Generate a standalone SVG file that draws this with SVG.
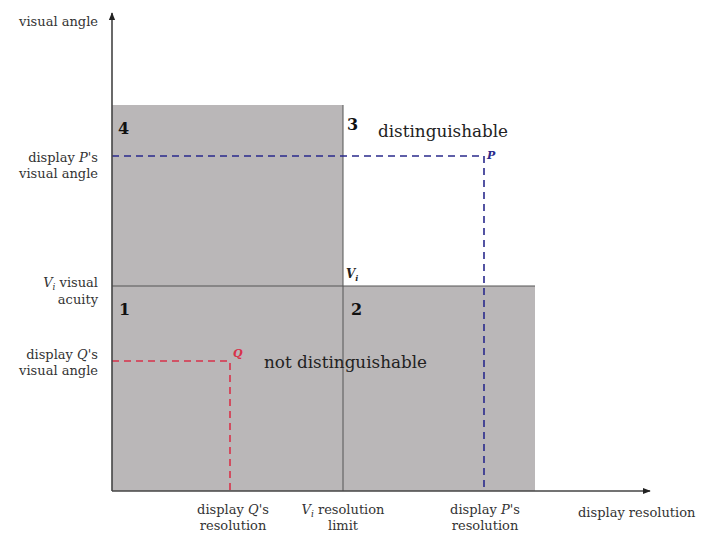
<svg xmlns="http://www.w3.org/2000/svg" width="702" height="535" viewBox="0 0 702 535">
<style>
text{font-family:"DejaVu Serif","Liberation Serif",serif;fill:#333}
.lbl{font-size:13px}
.num{font-size:16px;font-weight:bold;fill:#111}
.big{font-size:16.8px;fill:#222}
.it{font-style:italic}
.axis{stroke:#444;stroke-width:1.6;fill:none}
.div{stroke:#555;stroke-width:1;fill:none}
.blue{stroke:#2a2a8c;stroke-width:1.6;stroke-dasharray:7,5;fill:none}
.red{stroke:#d8324a;stroke-width:1.6;stroke-dasharray:7,5;fill:none}
</style>
<defs>
<marker id="ah" viewBox="0 0 10 10" refX="9" refY="5" markerWidth="8" markerHeight="8" markerUnits="userSpaceOnUse" orient="auto">
<path d="M0,1 L10,5 L0,9 z" fill="#222"/>
</marker>
</defs>
<rect width="702" height="535" fill="#fff"/>
<g id="regions">
<rect x="112" y="105" width="231" height="386" fill="#bab7b8"/>
<rect x="343" y="286" width="192" height="205" fill="#bab7b8"/>
</g>
<g id="connectors">
<line class="div" x1="343" y1="105" x2="343" y2="491"/>
<line class="div" x1="112" y1="286" x2="535" y2="286"/>
<path class="blue" d="M112,156 H484 V491"/>
<path class="red" d="M112,361 H230 V491"/>
<line class="axis" x1="112" y1="491" x2="112" y2="13" marker-end="url(#ah)"/>
<line class="axis" x1="112" y1="491" x2="650" y2="491" marker-end="url(#ah)"/>
</g>
<g id="axis-labels">
<text class="lbl" x="98" y="26" text-anchor="end">visual angle</text>
<text class="lbl" x="98" y="162" text-anchor="end">display <tspan class="it">P</tspan>'s</text>
<text class="lbl" x="98" y="178" text-anchor="end">visual angle</text>
<text class="lbl" x="98" y="287" text-anchor="end"><tspan class="it">V<tspan font-size="9" dy="3">i</tspan></tspan><tspan dy="-3"> visual</tspan></text>
<text class="lbl" x="98" y="304" text-anchor="end">acuity</text>
<text class="lbl" x="98" y="359" text-anchor="end">display <tspan class="it">Q</tspan>'s</text>
<text class="lbl" x="98" y="375" text-anchor="end">visual angle</text>
<text class="lbl" x="233" y="514" text-anchor="middle">display <tspan class="it">Q</tspan>'s</text>
<text class="lbl" x="233" y="530" text-anchor="middle">resolution</text>
<text class="lbl" x="343" y="514" text-anchor="middle"><tspan class="it">V<tspan font-size="9" dy="3">i</tspan></tspan><tspan dy="-3"> resolution</tspan></text>
<text class="lbl" x="343" y="530" text-anchor="middle">limit</text>
<text class="lbl" x="485" y="514" text-anchor="middle">display <tspan class="it">P</tspan>'s</text>
<text class="lbl" x="485" y="530" text-anchor="middle">resolution</text>
<text class="lbl" x="578" y="517">display resolution</text>
</g>
<g id="region-labels">
<text class="num" x="118" y="134">4</text>
<text class="num" x="347" y="130">3</text>
<text class="num" x="119" y="315">1</text>
<text class="num" x="351" y="315">2</text>
<text class="big" x="378" y="137">distinguishable</text>
<text class="big" x="264" y="368">not distinguishable</text>
</g>
<g id="points">
<text class="lbl it" x="487" y="159" style="fill:#2a2a8c;font-weight:bold;font-size:11px">P</text>
<text class="lbl it" x="233" y="357" style="fill:#d8324a;font-weight:bold;font-size:11px">Q</text>
<text class="lbl it" x="346" y="278" style="fill:#222;font-weight:bold;font-size:12px">V<tspan font-size="8" dy="3">i</tspan></text>
</g>
</svg>
